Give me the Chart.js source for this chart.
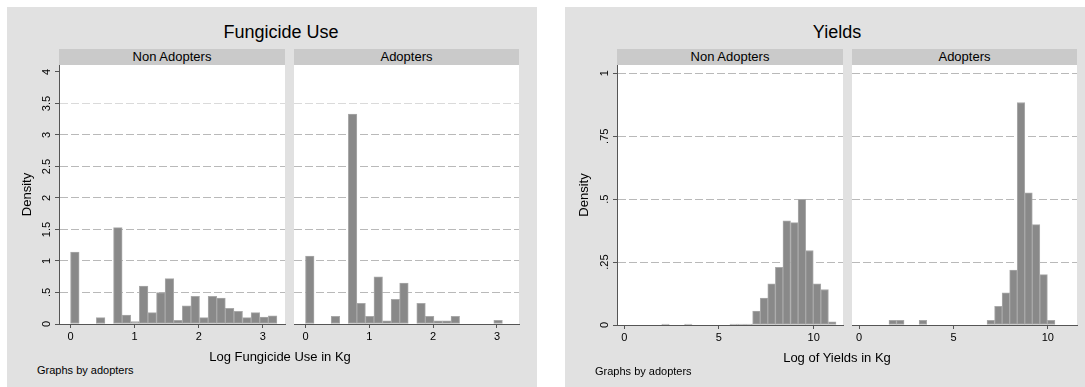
<!DOCTYPE html>
<html><head><meta charset="utf-8">
<script src="https://cdn.jsdelivr.net/npm/chart.js@4.4.1/dist/chart.umd.min.js"></script>
<style>
html,body{margin:0;padding:0;background:#fff;width:1085px;height:387px;overflow:hidden;font-family:"Liberation Sans",Arial,sans-serif;color:#000}
.bg{position:absolute;background:#e1e1e1}
.strip{position:absolute;background:#cacaca;font-size:13px;line-height:16px;height:16px;text-align:center;white-space:nowrap}
.t{position:absolute;white-space:nowrap;transform:translate(-50%,-50%)}
.n{position:absolute;white-space:nowrap;transform:translateY(-50%);font-size:11px}
canvas{position:absolute}
</style></head><body>
<div class="bg" style="left:7px;top:7px;width:530px;height:380px"></div>
<div class="bg" style="left:565px;top:7px;width:520px;height:380px"></div>

<div class="t" style="left:281px;top:32px;font-size:18px">Fungicide Use</div>
<div class="t" style="left:837px;top:32px;font-size:18px">Yields</div>

<div class="strip" style="left:59px;top:49px;width:226px">Non Adopters</div>
<div class="strip" style="left:294px;top:49px;width:225px">Adopters</div>
<div class="strip" style="left:617px;top:49px;width:226px">Non Adopters</div>
<div class="strip" style="left:852px;top:49px;width:225px">Adopters</div>

<canvas id="c1" width="278" height="300" style="left:8px;top:55px"></canvas>
<canvas id="c2" width="230" height="300" style="left:290px;top:55px"></canvas>
<canvas id="c3" width="278" height="300" style="left:566px;top:55px"></canvas>
<canvas id="c4" width="230" height="300" style="left:848px;top:55px"></canvas>

<div class="t" style="left:280px;top:356px;font-size:13px">Log Fungicide Use in Kg</div>
<div class="t" style="left:837px;top:357px;font-size:13px">Log of Yields in Kg</div>
<div class="n" style="left:37px;top:370px">Graphs by adopters</div>
<div class="n" style="left:595px;top:371px">Graphs by adopters</div>

<script>
// ---- data (histogram bin centres and densities) ----
const fungicideBins = [0.0671,0.2012,0.3353,0.4694,0.6036,0.7377,0.8718,1.0059,1.1400,1.2742,1.4083,1.5424,
                       1.6765,1.8106,1.9448,2.0789,2.2130,2.3471,2.4812,2.6154,2.7495,2.8836,3.0177,3.1518];
const fungicideNonAdopters = [1.14,0,0,0.10,0,1.53,0.14,0.04,0.60,0.18,0.50,0.72,
                              0.06,0.29,0.44,0.10,0.44,0.41,0.25,0.20,0.10,0.18,0.11,0.13];
const fungicideAdopters = [1.08,0,0,0.12,0,3.33,0.33,0.12,0.75,0.05,0.39,0.65,
                           0,0.33,0.12,0.05,0.05,0.12,0,0,0,0,0.06,0];
const yieldBins = [1.78,2.18,2.58,2.98,3.38,3.78,4.18,4.58,4.98,5.38,5.78,6.18,
                   6.58,6.98,7.38,7.78,8.18,8.58,8.98,9.38,9.78,10.18,10.58,10.98];
const yieldNonAdopters = [0,0.004,0,0,0.004,0,0,0,0,0,0.004,0.004,
                          0.004,0.055,0.107,0.164,0.229,0.414,0.407,0.499,0.296,0.164,0.141,0.013];
const yieldAdopters = [0.0185,0.0185,0,0,0.0185,0,0,0,0,0,0,0,
                       0,0.0185,0.074,0.128,0.218,0.884,0.525,0.399,0.200,0.0185,0,0];
const fungicideXTicks = [0,1,2,3];
const fungicideYTicks = [0,0.5,1,1.5,2,2.5,3,3.5,4];
const fungicideYLabels = ["0",".5","1","1.5","2","2.5","3","3.5","4"];
const yieldXTicks = [0,5,10];
const yieldYTicks = [0,0.25,0.5,0.75,1];
const yieldYLabels = ["0",".25",".5",".75","1"];

Chart.defaults.font.family = '"Liberation Sans", Arial, sans-serif';
Chart.defaults.color = '#000';

const plotBg = { id:'plotBg', beforeDraw(c){ const {ctx, chartArea:a} = c; ctx.save(); ctx.fillStyle='#fff'; ctx.fillRect(a.left,a.top,a.right-a.left,a.bottom-a.top); ctx.restore(); } };

function makeChart(id, bins, vals, o){
  const ds = {
    data: bins.map((b,i)=>({x:b, y: vals[i] ? vals[i] : null})),
    backgroundColor:'#898989', borderColor:'#a9a9a9', borderWidth:1, borderSkipped:false,
    barPercentage:1, categoryPercentage:1, grouped:false
  };
  const yScale = {
    type:'linear', min:0, max:o.yMax,
    afterBuildTicks: s => { s.ticks = o.yTicks.map(v=>({value:v})); },
    afterFit: s => { s.width = o.showY ? 51 : 0; },
    grid: { color: c => o.gridColor(c.tick ? c.tick.value : 0), lineWidth:1, drawTicks:o.showY, tickLength:4, tickColor:'#555', tickWidth:1 },
    border: { display:o.showY, color:'#555', width:1, dash:[8,3] },
    ticks: { display:o.showY, font:{size:11}, color:'#000', minRotation:90, maxRotation:90, crossAlign:'center', padding:0,
             callback: v => o.yLabels[o.yTicks.indexOf(v)] },
    title: { display:o.showY, text:'Density', font:{size:13}, color:'#000', padding:{top:o.titlePad,bottom:0} }
  };
  const xScale = {
    type:'linear', min:o.xMin, max:o.xMax, offset:false, bounds:'ticks',
    afterBuildTicks: s => { s.ticks = o.xTicks.map(v=>({value:v})); },
    afterFit: s => { s.height = o.xH; },
    grid: { offset:false, drawOnChartArea:false, drawTicks:true, tickLength:4, tickColor:'#555', tickWidth:1 },
    border: { display:true, color:'#555', width:1 },
    ticks: { font:{size:11}, color:'#000', padding:2, maxRotation:0, minRotation:0, autoSkip:false }
  };
  return new Chart(document.getElementById(id), {
    type:'bar',
    data:{ datasets:[ds] },
    options:{
      responsive:false, animation:false, devicePixelRatio:1,
      layout:{ padding:{ top:10, right:1, bottom:0, left:o.padLeft } },
      plugins:{ legend:{display:false}, tooltip:{enabled:false} },
      scales:{ x:xScale, y:yScale }
    },
    plugins:[plotBg]
  });
}

const fGrid = v => (v===0 || v===4) ? 'rgba(0,0,0,0)' : (v===3.5 ? '#dadada' : '#b9b9b9');
const yGrid = v => v===0 ? 'rgba(0,0,0,0)' : '#b9b9b9';

const fBase = { yMax:4.111, yTicks:fungicideYTicks, yLabels:fungicideYLabels, xTicks:fungicideXTicks, xMin:-0.18, xMax:3.345, xH:31, gridColor:fGrid, titlePad:12 };
const yBase = { yMax:1.033, yTicks:yieldYTicks, yLabels:yieldYLabels, xTicks:yieldXTicks, xMin:-0.38, xMax:11.55, xH:30, gridColor:yGrid, titlePad:11 };

makeChart('c1', fungicideBins, fungicideNonAdopters, Object.assign({}, fBase, {showY:true, padLeft:0}));
makeChart('c2', fungicideBins, fungicideAdopters, Object.assign({}, fBase, {showY:false, padLeft:4}));
makeChart('c3', yieldBins, yieldNonAdopters, Object.assign({}, yBase, {showY:true, padLeft:0}));
makeChart('c4', yieldBins, yieldAdopters, Object.assign({}, yBase, {showY:false, padLeft:4}));
</script>
</body></html>
